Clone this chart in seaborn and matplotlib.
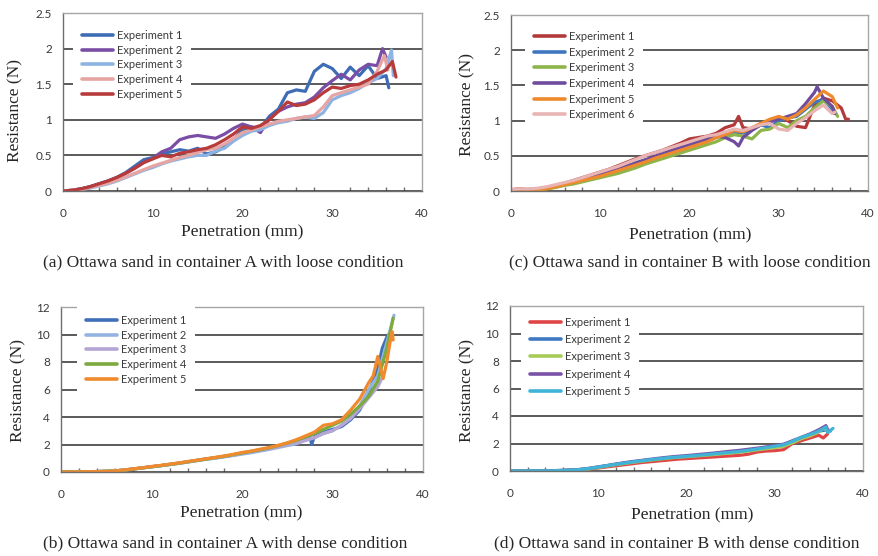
import matplotlib
matplotlib.use("Agg")
import matplotlib.pyplot as plt
import seaborn as sns
import pandas as pd
from matplotlib.ticker import MultipleLocator, FuncFormatter

sns.set_style("white")
plt.rcParams['font.family'] = ['Lato', 'DejaVu Sans']

# ---------------- data ----------------
GRID = [0, 1, 2, 3, 4, 5, 6, 7, 8, 9, 10, 11, 12, 13, 14, 15, 16, 17, 18, 19,
        20, 21, 22, 23, 24, 25, 26, 27, 28, 29, 30, 31, 32, 33, 34, 35, 36, 37]

# (a) container A, loose
a1_x = GRID[:37] + [36.3]
a1_y = [0.00, 0.01, 0.03, 0.06, 0.10, 0.14, 0.19, 0.26, 0.35, 0.44,
        0.47, 0.52, 0.55, 0.58, 0.56, 0.60, 0.52, 0.55, 0.62, 0.72,
        0.86, 0.90, 0.88, 1.05, 1.15, 1.38, 1.42, 1.40, 1.68, 1.78,
        1.72, 1.58, 1.74, 1.62, 1.76, 1.58, 1.62, 1.45]
a2_x = GRID[:36] + [35.6, 36.0]
a2_y = [0.00, 0.01, 0.03, 0.06, 0.10, 0.14, 0.19, 0.25, 0.32, 0.40,
        0.46, 0.55, 0.60, 0.72, 0.76, 0.78, 0.76, 0.74, 0.80, 0.88,
        0.94, 0.90, 0.82, 1.02, 1.12, 1.18, 1.22, 1.24, 1.32, 1.45,
        1.55, 1.64, 1.56, 1.70, 1.78, 1.76, 2.00, 1.88]
a3_x = GRID[:37] + [36.6, 36.8]
a3_y = [0.00, 0.01, 0.02, 0.04, 0.07, 0.10, 0.14, 0.19, 0.24, 0.29,
        0.33, 0.38, 0.42, 0.45, 0.48, 0.50, 0.50, 0.56, 0.60, 0.70,
        0.78, 0.84, 0.86, 0.92, 0.96, 0.98, 1.02, 1.04, 1.02, 1.10,
        1.28, 1.34, 1.38, 1.44, 1.52, 1.58, 1.72, 1.98, 1.62]
a4_x = GRID[:36] + [35.8, 36.2]
a4_y = [0.00, 0.01, 0.02, 0.05, 0.08, 0.11, 0.15, 0.20, 0.25, 0.30,
        0.35, 0.39, 0.43, 0.47, 0.50, 0.54, 0.58, 0.60, 0.66, 0.74,
        0.82, 0.86, 0.90, 0.94, 0.98, 1.00, 1.02, 1.04, 1.06, 1.18,
        1.34, 1.38, 1.42, 1.46, 1.50, 1.68, 1.90, 1.70]
a5_x = GRID[:37] + [36.7, 37.1]
a5_y = [0.00, 0.01, 0.03, 0.06, 0.10, 0.14, 0.19, 0.25, 0.32, 0.40,
        0.45, 0.50, 0.48, 0.53, 0.55, 0.58, 0.60, 0.65, 0.72, 0.80,
        0.90, 0.88, 0.92, 1.00, 1.12, 1.25, 1.20, 1.22, 1.28, 1.38,
        1.46, 1.44, 1.48, 1.50, 1.56, 1.64, 1.70, 1.82, 1.60]

# (c) container B, loose
c1_x = GRID[:26] + [25.5] + GRID[26:38] + [37.5, 37.8]
c1_y = [0.02, 0.03, 0.02, 0.03, 0.05, 0.08, 0.11, 0.15, 0.19, 0.23,
        0.27, 0.31, 0.36, 0.41, 0.46, 0.50, 0.54, 0.58, 0.63, 0.68,
        0.74, 0.76, 0.78, 0.82, 0.90, 0.94, 1.06,
        0.90, 0.88, 0.96, 1.00, 1.05, 1.00, 0.92, 0.90, 1.22, 1.32, 1.28, 1.18,
        1.02, 1.02]
c2_x = GRID[:37] + [36.2]
c2_y = [0.01, 0.01, 0.01, 0.02, 0.04, 0.07, 0.10, 0.13, 0.16, 0.19,
        0.23, 0.27, 0.31, 0.35, 0.40, 0.44, 0.48, 0.52, 0.56, 0.60,
        0.64, 0.68, 0.72, 0.76, 0.80, 0.84, 0.82, 0.88, 0.94, 0.90,
        1.00, 1.04, 1.06, 1.16, 1.26, 1.30, 1.16, 1.10]
c3_x = GRID[:37] + [36.6]
c3_y = [0.01, 0.01, 0.01, 0.01, 0.03, 0.05, 0.08, 0.10, 0.13, 0.16,
        0.19, 0.22, 0.25, 0.29, 0.33, 0.38, 0.42, 0.46, 0.50, 0.54,
        0.58, 0.62, 0.66, 0.70, 0.76, 0.80, 0.78, 0.74, 0.86, 0.88,
        0.96, 0.90, 1.00, 1.06, 1.18, 1.28, 1.20, 1.06]
c4_x = GRID[:26] + [25.5] + GRID[26:35] + [34.3] + GRID[35:37] + [36.3]
c4_y = [0.01, 0.01, 0.02, 0.03, 0.05, 0.07, 0.10, 0.13, 0.16, 0.20,
        0.23, 0.27, 0.31, 0.36, 0.40, 0.44, 0.49, 0.53, 0.58, 0.62,
        0.66, 0.70, 0.74, 0.78, 0.76, 0.70, 0.64,
        0.76, 0.86, 0.94, 0.98, 1.02, 1.06, 1.10, 1.24, 1.40,
        1.48, 1.32, 1.20, 1.10]
c5_x = GRID[:37] + [36.6]
c5_y = [0.01, 0.01, 0.01, 0.02, 0.03, 0.06, 0.09, 0.12, 0.15, 0.18,
        0.21, 0.25, 0.29, 0.33, 0.37, 0.41, 0.46, 0.50, 0.54, 0.58,
        0.62, 0.66, 0.70, 0.76, 0.80, 0.86, 0.84, 0.90, 0.96, 1.02,
        1.06, 1.02, 1.08, 1.18, 1.30, 1.42, 1.34, 1.18]
c6_x = GRID[:37] + [36.3]
c6_y = [0.02, 0.03, 0.03, 0.04, 0.06, 0.09, 0.12, 0.15, 0.19, 0.23,
        0.27, 0.31, 0.35, 0.40, 0.45, 0.50, 0.54, 0.58, 0.62, 0.66,
        0.70, 0.74, 0.78, 0.80, 0.84, 0.88, 0.86, 0.90, 0.94, 0.96,
        0.88, 0.86, 0.96, 1.04, 1.14, 1.22, 1.10, 1.12]

# (b) container A, dense
b1_x = GRID[:28] + [27.5, 27.7] + GRID[28:36] + [35.5] + GRID[36:37] + [36.2]
b1_y = [0.00, 0.00, 0.01, 0.02, 0.03, 0.05, 0.08, 0.14, 0.22, 0.30,
        0.38, 0.46, 0.55, 0.64, 0.74, 0.84, 0.94, 1.02, 1.12, 1.22,
        1.35, 1.45, 1.58, 1.70, 1.85, 2.00, 2.20, 2.40, 2.60, 2.00,
        2.60, 2.90, 3.10, 3.30, 3.80, 4.50, 5.80, 7.50, 9.00, 9.80, 10.0]
b2_x = GRID[:37] + [36.8]
b2_y = [0.00, 0.00, 0.01, 0.02, 0.04, 0.06, 0.09, 0.15, 0.22, 0.30,
        0.38, 0.46, 0.54, 0.62, 0.72, 0.82, 0.92, 1.00, 1.10, 1.20,
        1.30, 1.40, 1.52, 1.64, 1.78, 1.92, 2.05, 2.30, 2.50, 2.80,
        3.00, 3.40, 3.90, 4.80, 6.00, 7.00, 9.40, 11.4]
b3_x = GRID[:36] + [35.6]
b3_y = [0.00, 0.00, 0.01, 0.02, 0.03, 0.05, 0.08, 0.14, 0.22, 0.30,
        0.38, 0.46, 0.55, 0.64, 0.74, 0.84, 0.94, 1.04, 1.14, 1.24,
        1.36, 1.46, 1.58, 1.70, 1.84, 1.98, 2.12, 2.30, 2.50, 2.80,
        3.00, 3.40, 3.90, 4.60, 5.40, 6.20, 7.00]
b4_x = GRID[:37] + [36.7]
b4_y = [0.00, 0.00, 0.01, 0.02, 0.03, 0.05, 0.08, 0.14, 0.22, 0.30,
        0.38, 0.46, 0.55, 0.64, 0.74, 0.84, 0.94, 1.04, 1.14, 1.26,
        1.38, 1.50, 1.62, 1.76, 1.92, 2.10, 2.30, 2.55, 2.80, 3.10,
        3.40, 3.70, 4.20, 4.80, 5.50, 6.60, 9.00, 11.2]
b5_x = GRID[:35] + [34.5, 35.0, 35.3, 35.6, 36.0, 36.4, 36.6, 36.7]
b5_y = [0.00, 0.00, 0.01, 0.02, 0.03, 0.05, 0.08, 0.15, 0.23, 0.31,
        0.40, 0.48, 0.57, 0.66, 0.76, 0.86, 0.96, 1.06, 1.16, 1.28,
        1.42, 1.52, 1.66, 1.78, 1.94, 2.12, 2.35, 2.62, 2.90, 3.40,
        3.50, 3.80, 4.50, 5.30, 6.50,
        7.00, 8.40, 7.60, 6.80, 8.00, 9.60, 10.2, 9.60]

# (d) container B, dense
d1_x = GRID[:36] + [35.5, 36.0]
d1_y = [0.00, 0.00, 0.00, 0.01, 0.01, 0.02, 0.03, 0.05, 0.08, 0.14,
        0.22, 0.30, 0.38, 0.46, 0.54, 0.62, 0.68, 0.74, 0.80, 0.86,
        0.90, 0.94, 0.98, 1.02, 1.06, 1.10, 1.14, 1.22, 1.38, 1.45,
        1.48, 1.55, 2.00, 2.20, 2.40, 2.60, 2.40, 2.70]
d2_x = GRID[:37] + [36.3]
d2_y = [0.00, 0.00, 0.00, 0.01, 0.01, 0.02, 0.04, 0.06, 0.10, 0.18,
        0.28, 0.38, 0.48, 0.57, 0.66, 0.74, 0.82, 0.89, 0.96, 1.01,
        1.06, 1.11, 1.16, 1.22, 1.28, 1.34, 1.40, 1.49, 1.58, 1.66,
        1.75, 1.85, 2.10, 2.40, 2.60, 2.90, 3.00, 2.90]
d3_x = GRID[:36] + [35.5, 36.0]
d3_y = [0.00, 0.00, 0.00, 0.01, 0.01, 0.02, 0.04, 0.06, 0.09, 0.16,
        0.26, 0.36, 0.46, 0.55, 0.64, 0.72, 0.80, 0.87, 0.94, 1.00,
        1.04, 1.09, 1.14, 1.19, 1.25, 1.31, 1.37, 1.45, 1.54, 1.62,
        1.70, 1.80, 2.05, 2.35, 2.55, 2.85, 3.10, 2.95]
d4_x = GRID[:36] + [35.8, 36.0]
d4_y = [0.00, 0.00, 0.00, 0.01, 0.02, 0.03, 0.05, 0.08, 0.12, 0.20,
        0.30, 0.40, 0.51, 0.61, 0.70, 0.78, 0.86, 0.94, 1.01, 1.07,
        1.12, 1.18, 1.24, 1.30, 1.37, 1.44, 1.50, 1.58, 1.66, 1.75,
        1.85, 1.95, 2.20, 2.45, 2.70, 3.00, 3.30, 3.00]
d5_x = GRID[:36] + [35.8, 36.0, 36.6]
d5_y = [0.00, 0.00, 0.00, 0.01, 0.01, 0.02, 0.04, 0.07, 0.11, 0.19,
        0.29, 0.39, 0.49, 0.58, 0.67, 0.75, 0.83, 0.90, 0.97, 1.02,
        1.07, 1.12, 1.18, 1.24, 1.30, 1.36, 1.42, 1.50, 1.60, 1.70,
        1.80, 1.90, 2.15, 2.45, 2.65, 2.90, 3.20, 2.80, 3.10]

captions = ["(a) Ottawa sand in container A with loose condition",
            "(c) Ottawa sand in container B with loose condition",
            "(b) Ottawa sand in container A with dense condition",
            "(d) Ottawa sand in container B with dense condition"]

panels = [
    dict(series=[(a1_x, a1_y), (a2_x, a2_y), (a3_x, a3_y), (a4_x, a4_y), (a5_x, a5_y)],
         colors=['#3E6DB5', '#7B4EA6', '#8DB3E2', '#E6A5A3', '#B83B3B'],
         ymax=2.5, ystep=0.5, rect=(63, 13, 422, 191),
         leg=(73, 21, 0.33), ylab=(15, 110), xlab=(242, 232), cap=(223, 262)),
    dict(series=[(c1_x, c1_y), (c2_x, c2_y), (c3_x, c3_y), (c4_x, c4_y), (c5_x, c5_y), (c6_x, c6_y)],
         colors=['#B33A3A', '#3F77BE', '#8DB54A', '#6E4C9E', '#EE8A2E', '#E8B4B4'],
         ymax=2.5, ystep=0.5, rect=(511, 15, 868, 191),
         leg=(525, 22, 0.42), ylab=(467, 105), xlab=(690, 235), cap=(690, 262)),
    dict(series=[(b1_x, b1_y), (b2_x, b2_y), (b3_x, b3_y), (b4_x, b4_y), (b5_x, b5_y)],
         colors=['#3F6FB6', '#93B4E0', '#B4A5D4', '#7DAA3C', '#F08A2E'],
         ymax=12, ystep=2, rect=(61, 307, 423, 472),
         leg=(77, 306, 0.33), ylab=(18, 390), xlab=(241, 513), cap=(225, 543)),
    dict(series=[(d1_x, d1_y), (d2_x, d2_y), (d3_x, d3_y), (d4_x, d4_y), (d5_x, d5_y)],
         colors=['#E04545', '#3F78C2', '#A6CC55', '#7A52A8', '#40B4D6'],
         ymax=12, ystep=2, rect=(510, 306, 863, 471),
         leg=(521, 308, 0.56), ylab=(467, 390), xlab=(692, 515), cap=(677, 543)),
]

W, H = 879, 556
fig = plt.figure(figsize=(W / 100, H / 100), dpi=100)

for p, cap in zip(panels, captions):
    l, t, r, b = p['rect']
    ax = fig.add_axes([l / W, 1 - b / H, (r - l) / W, (b - t) / H])
    frames = []
    for i, (xs, ys) in enumerate(p['series']):
        frames.append(pd.DataFrame({'Penetration': xs, 'Resistance': ys,
                                    'Experiment': f'Experiment {i + 1}'}))
    df = pd.concat(frames, ignore_index=True)
    sns.lineplot(data=df, x='Penetration', y='Resistance', hue='Experiment',
                 palette=p['colors'], estimator=None, sort=False, lw=2.3, ax=ax)

    ax.set_xlim(0, 40)
    ax.set_ylim(0, p['ymax'])
    ax.xaxis.set_major_locator(MultipleLocator(10))
    ax.xaxis.set_minor_locator(MultipleLocator(2))
    ax.yaxis.set_major_locator(MultipleLocator(p['ystep']))
    ax.yaxis.set_major_formatter(FuncFormatter(lambda v, pos: f'{v:g}'))
    ax.yaxis.grid(True, color='#2E2E2E', lw=1.1)
    ax.set_axisbelow(True)
    for s in ['left', 'bottom']:
        ax.spines[s].set_color('#6E6E6E')
        ax.spines[s].set_linewidth(1.0)
    for s in ['top', 'right']:
        ax.spines[s].set_color('#A6A6A6')
        ax.spines[s].set_linewidth(1.0)
    ax.tick_params(axis='both', which='major', direction='inout', length=6,
                   width=1, color='#6E6E6E', labelsize=8.5, labelcolor='#3A3A3A')
    ax.tick_params(axis='x', which='major', pad=9)
    ax.tick_params(axis='y', which='major', pad=5)
    ax.tick_params(axis='x', which='minor', direction='in', length=3,
                   width=1, color='#6E6E6E', bottom=True)

    ax.set_xlabel('Penetration (mm)', family='Liberation Serif', fontsize=12.5, color='#262626')
    ax.set_ylabel('Resistance (N)', family='Liberation Serif', fontsize=12.5, color='#262626')
    xl, yl = p['xlab']
    ax.xaxis.set_label_coords((xl - l) / (r - l), (b - yl) / (b - t))
    ax.xaxis.label.set_va('center')
    xl, yl = p['ylab']
    ax.yaxis.set_label_coords((xl - l) / (r - l), (b - yl) / (b - t))
    ax.yaxis.label.set_va('center')

    lx, ly, ls = p['leg']
    handles, labels = ax.get_legend_handles_labels()
    leg = ax.legend(handles, labels, loc='upper left',
                    bbox_to_anchor=((lx - l) / (r - l), (b - ly) / (b - t)),
                    borderaxespad=0, frameon=True, facecolor='white', edgecolor='none',
                    framealpha=1, fancybox=False, fontsize=8, handlelength=2.8,
                    handletextpad=0.35, labelspacing=ls, borderpad=0.8)
    for h in leg.legend_handles:
        h.set_linewidth(2.6)
    for txt in leg.get_texts():
        txt.set_color('#3A3A3A')

    cx, cy = p['cap']
    fig.text(cx / W, 1 - cy / H, cap, family='Liberation Serif', fontsize=12.6,
             color='#262626', ha='center', va='center')

fig.savefig('out.png', dpi=100)
